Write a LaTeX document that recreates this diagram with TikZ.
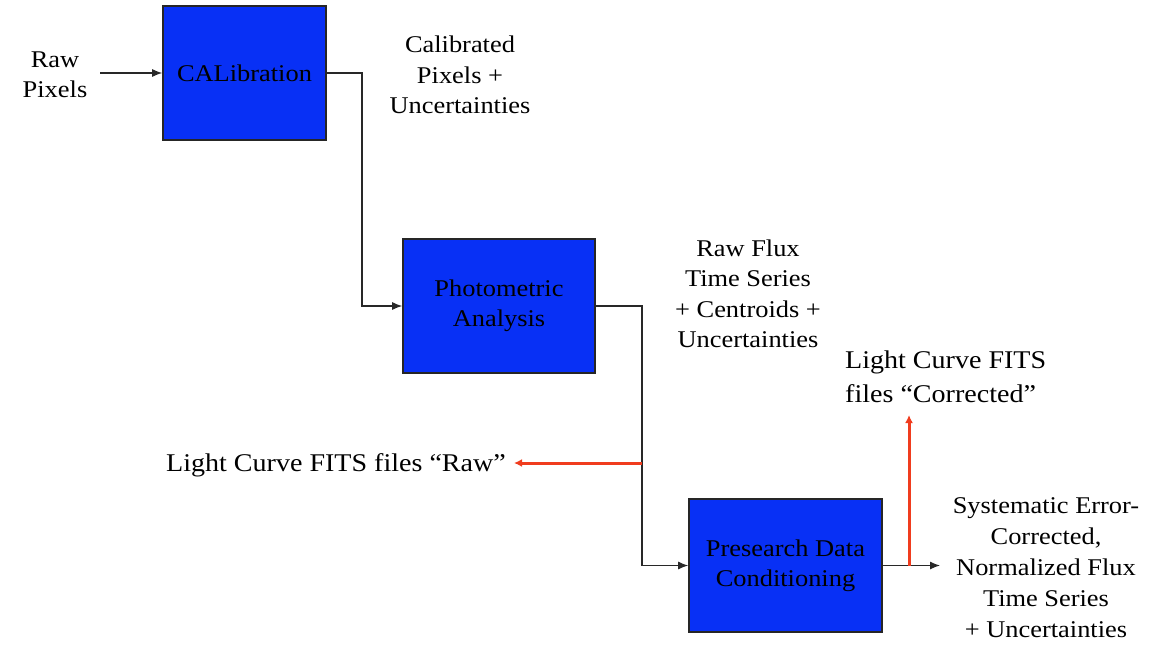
\documentclass[tikz,border=0pt]{standalone}
\usepackage{fontspec}
\setmainfont{Liberation Serif}[FakeStretch=1.1]
\usetikzlibrary{arrows.meta}
\definecolor{boxblue}{RGB}{8,48,245}
\definecolor{arrred}{RGB}{240,60,30}
\definecolor{conngray}{RGB}{40,40,40}
\begin{document}
\begin{tikzpicture}[x=1pt,y=-1pt,
  procbox/.style={draw=black!85,line width=1.6pt,fill=boxblue,inner sep=0pt,align=center,
    font=\fontsize{24}{30}\selectfont,text=black},
  lbl/.style={align=center,inner sep=0pt,font=\fontsize{24}{30.5}\selectfont},
  biglbl/.style={inner sep=0pt,font=\fontsize{25.5}{34}\selectfont},
  conn/.style={draw=conngray,line width=1.2pt,-{Latex[length=10pt,width=8pt]}},
  redarr/.style={draw=arrred,line width=3pt,-{Latex[length=8pt,width=8pt]}}]
\useasboundingbox (0,0) rectangle (1158,651);

\node[procbox,minimum width=163pt,minimum height=134pt] (cal) at (244.5,73) {CALibration};
\node[procbox,minimum width=192pt,minimum height=134pt] (pa) at (499,306) {Photometric\\Analysis};
\node[procbox,minimum width=193pt,minimum height=133pt] (pdc) at (785.5,565.5) {Presearch Data\\Conditioning};

\node[lbl] (rawpix) at (55,75) {Raw\\Pixels};
\node[lbl] (calpix) at (460,75) {Calibrated\\Pixels +\\Uncertainties};
\node[lbl] (rawflux) at (748,294) {Raw Flux\\Time Series\\+ Centroids +\\Uncertainties};
\node[lbl,font=\fontsize{24}{31}\selectfont] (sysout) at (1046,568) {Systematic Error-\\Corrected,\\Normalized Flux\\Time Series\\+ Uncertainties};
\node[biglbl,anchor=west] (lcraw) at (166,465) {Light Curve FITS files “Raw”};
\node[biglbl,align=left,anchor=west] (lccor) at (845,377) {Light Curve FITS\\files “Corrected”};

\coordinate (in) at (100,73);
\coordinate (j1) at (362,73);
\coordinate (j2) at (642,306);
\coordinate (j3) at (642,463);
\coordinate (j4) at (909,565.5);
\coordinate (out) at (940,565.5);
\coordinate (rawtip) at (514,463);
\coordinate (cortip) at (909,415);

\draw[conn] (in) -- (cal.west);
\draw[conn] (cal.east) -- (j1) |- (pa.west);
\draw[conn] (pa.east) -- (j2) |- (pdc.west);
\draw[conn] (pdc.east) -- (out);
\draw[redarr] (j3) -- (rawtip);
\draw[redarr] (j4) -- (cortip);
\end{tikzpicture}
\end{document}
